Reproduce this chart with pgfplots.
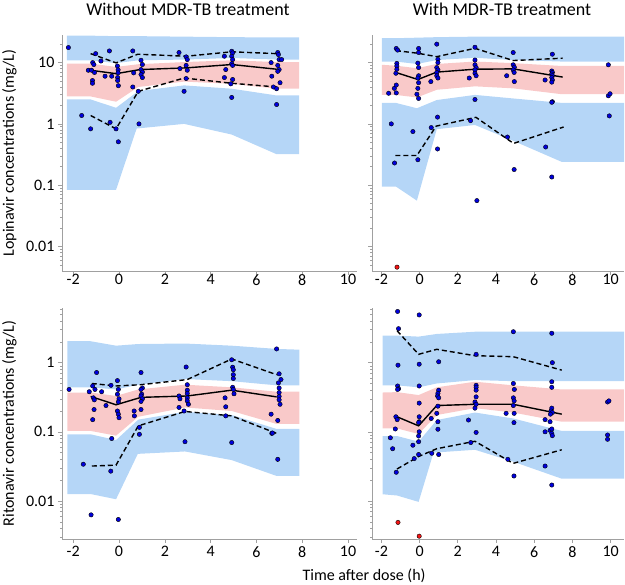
\documentclass[border=0pt]{standalone}
\usepackage{fontspec}
\setmainfont{Carlito}
\usepackage{pgfplots}
\pgfplotsset{compat=1.18}
\definecolor{bandblue}{RGB}{181,214,247}
\definecolor{bandpink}{RGB}{249,201,201}
\definecolor{dotblue}{RGB}{0,0,220}
\definecolor{dotred}{RGB}{245,20,20}
\definecolor{axisgray}{RGB}{160,160,160}

\pgfplotsset{
  vpc/.style={
    scale only axis,
    axis x line*=bottom, axis y line*=left,
    axis line style={axisgray, line width=0.8pt},
    every tick/.style={axisgray, line width=0.6pt},
    major tick length=4pt, minor tick length=2pt,
    tick align=outside,
    xtick={-2,0,2,4,6,8,10},
    xticklabels={-2,0,2,4,6,8,10},
    tick label style={font=\fontsize{16}{16}\selectfont, text=black},
    label style={font=\fontsize{16}{16}\selectfont},
  },
  toprow/.style={vpc, width=#1, height=236pt,
    ymin=0.00398, ymax=28.2,
    ytick={0.01,0.1,1,10},
    minor ytick={0.005,0.006,0.007,0.008,0.009,0.02,0.03,0.04,0.05,0.06,0.07,0.08,0.09,
      0.2,0.3,0.4,0.5,0.6,0.7,0.8,0.9,2,3,4,5,6,7,8,9,20},
    xticklabel shift=-4pt,
    title style={font=\fontsize{18}{18}\selectfont, anchor=base},
  },
  botrow/.style={vpc, width=#1, height=231pt,
    ymin=0.00282, ymax=6.17,
    ytick={0.01,0.1,1},
    minor ytick={0.003,0.004,0.005,0.006,0.007,0.008,0.009,0.02,0.03,0.04,0.05,0.06,0.07,0.08,0.09,
      0.2,0.3,0.4,0.5,0.6,0.7,0.8,0.9,2,3,4,5,6},
  },
  band/.style={draw=none, forget plot},
  med/.style={black, line width=1.4pt},
  pct/.style={black, line width=1.4pt, dash pattern=on 5pt off 3pt},
  obs/.style={only marks, mark=*, mark size=2.2pt, mark options={draw=none, fill=dotblue}},
  bql/.style={only marks, mark=*, mark size=2.2pt, mark options={draw=none, fill=dotred}},
}

\begin{document}
\begin{tikzpicture}
\path[use as bounding box] (0pt,0pt) rectangle (625pt,-585pt);

% ---------- Lopinavir, without MDR-TB treatment ----------
\begin{semilogyaxis}[toprow=295pt, at={(62pt,-35pt)}, anchor=north west,
  xmin=-2.49, xmax=10.39,
  yticklabels={0.01,0.1,1,10},
  title={Without MDR-TB treatment},
  title style={at={(axis description cs:0.427,1)}, yshift=13.5pt},
  ylabel={Lopinavir concentrations (mg/L)},
  ylabel style={at={(axis description cs:-0.163,0.5)}, anchor=base},
]
\addplot[band, fill=bandblue] coordinates {(-2.28,27.5) (-1.23,27.5) (-0.13,27) (0.84,27) (2.84,26.5) (4.92,26) (6.88,25.7) (7.86,25.7)
  (7.86,11.2) (6.88,11.2) (4.92,11.9) (2.84,11.2) (0.84,10.9) (-0.13,9.8) (-1.23,10.9) (-2.28,10.9)} -- cycle;
\addplot[band, fill=bandpink] coordinates {(-2.28,9.6) (-1.23,9.6) (-0.13,8.5) (0.84,9.4) (2.84,10.2) (4.92,10.9) (6.88,10.2) (7.86,10.2)
  (7.86,3.75) (6.88,3.75) (4.92,4.5) (2.84,4.9) (0.84,4.0) (-0.13,2.3) (-1.23,2.8) (-2.28,2.8)} -- cycle;
\addplot[band, fill=bandblue] coordinates {(-2.28,2.5) (-1.23,2.5) (-0.13,1.83) (0.84,3.43) (2.84,4.25) (4.92,3.75) (6.88,2.91) (7.86,2.91)
  (7.86,0.32) (6.88,0.32) (4.92,0.67) (2.84,1.0) (0.77,0.84) (-0.13,0.084) (-1.23,0.084) (-2.28,0.084)} -- cycle;
\addplot[med] coordinates {(-1.24,7.5) (-0.13,6.6) (0.92,7.7) (2.93,8.2) (4.92,9.3) (6.88,7.8)};
\addplot[pct] coordinates {(-1.24,14) (-0.13,9.9) (0.82,13.7) (2.93,12.7) (4.92,15) (6.88,14)};
\addplot[pct] coordinates {(-1.24,1.37) (-0.13,0.83) (0.84,3.4) (2.84,5.6) (4.92,4.6) (6.88,4.0)};
\addplot[obs] coordinates {
(-2.21,17.6) (-1.63,1.37) (-1.24,0.83) (-1.34,7.5) (-1.20,7.5) (-1.15,10) (-1.10,9.3) (-1.07,6.9) (-1.16,5.1) (-1.16,4.6)
(-1.02,14) (-0.79,10.6) (-0.61,6.0) (-0.42,15.5) (-0.39,1.06) (-0.32,6.0) (-0.07,8.8) (-0.04,7.6) (-0.04,6.8) (-0.06,5.7)
(-0.06,5.1) (-0.03,4.2) (-0.13,0.83) (-0.03,0.51) (0.60,15.5) (0.64,6.8) (0.60,4.0) (0.84,3.4) (0.87,1.0) (0.96,10.9)
(1.02,9.3) (0.96,7.7) (1.02,7.0) (0.96,6.4) (1.02,5.7) (2.62,14.6) (2.66,8.0) (2.84,3.4) (2.93,12.4) (2.98,11.2)
(2.93,9.0) (2.98,7.5) (2.93,5.5) (4.60,12.7) (4.66,7.7) (4.60,5.7) (4.92,15.3) (4.96,14.4) (4.92,12.7) (4.96,11.2)
(4.92,9.6) (4.96,9.0) (4.96,5.3) (4.92,2.7) (4.88,4.5) (6.64,10) (6.67,6.0) (6.74,4.0) (6.93,14.6) (6.96,13.5)
(6.99,11.2) (7.10,11.2) (6.93,9.0) (6.99,7.7) (6.93,7.2) (7.03,4.7) (6.88,2.07) (6.88,3.75)};
\end{semilogyaxis}

% ---------- Lopinavir, with MDR-TB treatment ----------
\begin{semilogyaxis}[toprow=252pt, at={(372pt,-35pt)}, anchor=north west,
  xmin=-2.49, xmax=10.70,
  yticklabels={},
  title={With MDR-TB treatment},
  title style={at={(axis description cs:0.516,1)}, yshift=13.5pt},
]
\addplot[band, fill=bandblue] coordinates {(-1.97,25) (-1.24,25) (-0.14,25.5) (0.9,26) (2.9,26.5) (4.9,26.5) (7.44,26.5) (10.75,26.5)
  (10.75,10.4) (7.44,10.4) (4.9,11) (2.9,12) (0.9,11) (-0.14,9.5) (-1.24,10.4) (-1.97,10.4)} -- cycle;
\addplot[band, fill=bandpink] coordinates {(-1.97,9.2) (-1.24,8.9) (-0.14,8.1) (0.9,9.5) (2.9,10.4) (4.9,9.8) (7.44,8.8) (10.75,8.8)
  (10.75,3.05) (7.44,3.05) (4.9,3.8) (2.9,4.1) (0.9,3.6) (-0.14,2.7) (-1.24,2.97) (-1.97,2.97)} -- cycle;
\addplot[band, fill=bandblue] coordinates {(-1.97,2.2) (-1.24,2.2) (-0.14,1.8) (0.9,2.45) (2.9,2.97) (4.9,2.6) (7.44,2.2) (10.75,2.2)
  (10.75,0.24) (7.44,0.24) (4.9,0.53) (2.9,0.96) (0.9,0.82) (-0.14,0.056) (-1.24,0.095) (-1.97,0.095)} -- cycle;
\addplot[med] coordinates {(-1.24,6.9) (-0.09,5.3) (0.9,7.0) (2.9,7.8) (4.9,7.9) (7.49,5.8)};
\addplot[pct] coordinates {(-1.24,15.7) (-0.09,14.2) (0.9,12.5) (2.9,17.1) (4.9,10.8) (7.49,11.8)};
\addplot[pct] coordinates {(-1.27,0.305) (-0.14,0.305) (0.87,0.92) (2.95,1.28) (4.92,0.48) (7.54,0.89)};
\addplot[obs] coordinates {
(-1.62,3.16) (-1.48,1.0) (-1.32,3.8) (-1.22,4.3) (-1.22,3.2) (-1.22,17) (-1.15,16) (-1.19,9.7) (-1.19,8.8) (-1.19,7.8)
(-1.24,6.7) (-0.35,0.75) (-0.05,17) (-0.05,14.6) (-0.09,9.8) (-0.05,8.3) (-0.05,6.1) (-0.09,5.6) (-0.05,4.7) (-0.09,3.8)
(-0.14,3.05) (-0.05,2.6) (0.59,4.9) (0.9,20) (0.96,11.3) (0.96,10) (0.9,8.3) (0.96,7.6) (0.9,6.9) (0.9,6.1)
(0.96,5.6) (0.94,1.29) (0.61,0.87) (0.94,0.39) (2.6,5.6) (2.67,1.13) (2.9,17.8) (2.9,11) (2.9,9.2) (2.96,8.3)
(2.9,7.6) (2.9,6.7) (2.96,6.1) (2.9,2.5) (3.0,0.056) (4.56,6.1) (4.6,0.61) (4.9,14.6) (4.9,9.2) (4.96,8.4)
(4.9,7.6) (4.95,6.9) (4.96,4.9) (4.95,0.18) (6.57,5.2) (6.6,0.42) (6.95,13.7) (6.92,7.3) (6.95,6.9) (6.92,6.5)
(6.95,6.1) (6.92,5.7) (6.95,5.2) (6.92,4.8) (6.95,2.3) (6.92,2.25) (6.92,0.136) (9.88,9.2) (9.88,2.87) (9.97,3.1)
(9.93,1.35) (-1.31,0.23) (-0.09,0.26)};
\addplot[bql] coordinates {(-1.18,0.0046)};
\end{semilogyaxis}

% ---------- Ritonavir, without MDR-TB treatment ----------
\begin{semilogyaxis}[botrow=295pt, at={(62pt,-308pt)}, anchor=north west,
  xmin=-2.49, xmax=10.39,
  yticklabels={0.01,0.1,1},
  ylabel={Ritonavir concentrations (mg/L)},
  ylabel style={at={(axis description cs:-0.163,0.5)}, anchor=base},
  xlabel={Time after dose (h)},
  xlabel style={at={(axis description cs:1.024,-0.1775)}, anchor=base},
]
\addplot[band, fill=bandblue] coordinates {(-2.26,2.04) (-1.24,2.04) (-0.13,1.76) (0.84,1.86) (2.88,1.89) (4.92,1.76) (6.88,1.58) (7.87,1.54)
  (7.87,0.47) (6.88,0.47) (4.92,0.54) (2.88,0.58) (0.84,0.48) (-0.13,0.41) (-1.24,0.44) (-2.26,0.44)} -- cycle;
\addplot[band, fill=bandpink] coordinates {(-2.26,0.37) (-1.24,0.37) (-0.13,0.33) (0.84,0.41) (2.88,0.48) (4.92,0.44) (6.88,0.38) (7.87,0.38)
  (7.87,0.13) (6.88,0.13) (4.92,0.20) (2.88,0.225) (0.84,0.165) (-0.13,0.088) (-1.24,0.103) (-2.26,0.103)} -- cycle;
\addplot[band, fill=bandblue] coordinates {(-2.26,0.092) (-1.24,0.092) (-0.13,0.076) (0.84,0.15) (2.88,0.195) (4.92,0.175) (6.88,0.11) (7.87,0.11)
  (7.87,0.023) (6.88,0.023) (4.92,0.039) (2.88,0.052) (0.82,0.048) (-0.13,0.0106) (-1.24,0.0126) (-2.26,0.0126)} -- cycle;
\addplot[med] coordinates {(-1.24,0.325) (-0.13,0.246) (0.96,0.315) (2.98,0.33) (4.92,0.40) (6.88,0.32)};
\addplot[pct] coordinates {(-1.19,0.50) (-0.13,0.46) (0.96,0.48) (2.98,0.57) (4.92,1.13) (6.88,0.67)};
\addplot[pct] coordinates {(-1.19,0.032) (-0.13,0.033) (0.84,0.122) (2.88,0.197) (4.92,0.17) (6.88,0.095)};
\addplot[obs] coordinates {
(-2.18,0.41) (-1.30,0.38) (-1.15,0.46) (-1.05,0.41) (-1.12,0.31) (-1.08,0.29) (-1.09,0.21) (-1.15,0.15) (-0.98,0.72) (-0.76,0.38)
(-0.57,0.24) (-0.35,0.47) (-0.07,0.55) (-0.03,0.41) (-0.07,0.35) (0.0,0.30) (-0.03,0.27) (-0.07,0.20) (-0.03,0.18) (0.0,0.16)
(0.66,0.20) (0.67,0.17) (0.96,0.72) (1.02,0.43) (0.96,0.41) (0.99,0.35) (0.96,0.33) (1.02,0.30) (0.96,0.275) (0.96,0.21)
(2.62,0.33) (2.66,0.30) (2.62,0.225) (2.93,0.865) (2.98,0.48) (2.98,0.40) (2.98,0.36) (2.98,0.31) (2.98,0.28) (3.03,0.25)
(2.84,0.20) (4.63,0.31) (4.66,0.23) (4.92,1.1) (4.96,0.86) (4.99,0.79) (4.99,0.67) (4.99,0.59) (4.96,0.44) (4.99,0.41)
(5.02,0.355) (6.64,0.18) (6.88,1.58) (6.99,0.69) (7.07,0.57) (6.96,0.51) (6.99,0.43) (6.99,0.37) (6.99,0.325) (6.99,0.29)
(7.03,0.25) (6.93,0.146) (-1.56,0.034) (-1.22,0.0063) (-0.32,0.08) (-0.36,0.027) (-0.03,0.0054) (0.89,0.116) (0.89,0.092) (2.88,0.072)
(4.66,0.17) (4.92,0.07) (6.67,0.095) (6.70,0.096) (6.93,0.04)};
\end{semilogyaxis}

% ---------- Ritonavir, with MDR-TB treatment ----------
\begin{semilogyaxis}[botrow=252pt, at={(372pt,-308pt)}, anchor=north west,
  xmin=-2.49, xmax=10.70,
  yticklabels={},
]
\addplot[band, fill=bandblue] coordinates {(-1.93,2.46) (-1.18,2.46) (-0.05,2.38) (0.9,2.6) (2.9,2.8) (4.9,2.8) (7.44,2.8) (10.75,2.8)
  (10.75,0.54) (7.44,0.54) (4.9,0.54) (2.9,0.56) (0.9,0.50) (-0.05,0.44) (-1.18,0.47) (-1.93,0.47)} -- cycle;
\addplot[band, fill=bandpink] coordinates {(-1.93,0.37) (-1.18,0.375) (-0.05,0.34) (0.9,0.44) (2.9,0.53) (4.9,0.47) (7.44,0.41) (10.75,0.41)
  (10.75,0.14) (7.44,0.14) (4.9,0.19) (2.9,0.22) (0.9,0.175) (-0.05,0.093) (-1.18,0.112) (-1.93,0.112)} -- cycle;
\addplot[band, fill=bandblue] coordinates {(-1.93,0.087) (-1.18,0.087) (-0.05,0.072) (0.9,0.148) (2.9,0.19) (4.9,0.156) (7.44,0.103) (10.75,0.103)
  (10.75,0.021) (7.44,0.021) (4.9,0.037) (2.9,0.055) (0.73,0.05) (-0.05,0.0097) (-1.18,0.012) (-1.93,0.0125)} -- cycle;
\addplot[med] coordinates {(-1.18,0.165) (-0.05,0.122) (0.9,0.24) (2.9,0.25) (4.9,0.25) (7.44,0.18)};
\addplot[pct] coordinates {(-1.18,2.9) (-0.05,1.32) (0.9,1.56) (2.9,1.26) (4.9,1.22) (7.44,0.78)};
\addplot[pct] coordinates {(-1.18,0.029) (-0.05,0.044) (0.9,0.057) (2.9,0.073) (4.9,0.035) (7.44,0.055)};
\addplot[obs] coordinates {
(-1.15,5.5) (-1.10,3.1) (-1.13,0.92) (-1.15,0.46) (-1.10,0.42) (-1.15,0.41) (-1.24,0.165) (-1.17,0.15) (-0.02,4.9) (-0.02,0.95)
(-0.02,0.46) (-0.02,0.26) (-0.02,0.165) (-0.02,0.14) (0.61,0.156) (1.0,1.03) (1.0,0.40) (0.96,0.36) (0.94,0.33) (1.0,0.31)
(0.96,0.235) (0.9,0.185) (0.96,0.14) (2.96,1.32) (2.96,0.47) (2.96,0.44) (2.96,0.40) (2.96,0.32) (2.9,0.27) (2.96,0.25)
(2.9,0.22) (2.56,0.148) (4.91,2.8) (4.91,0.50) (4.96,0.41) (4.91,0.31) (4.95,0.28) (4.91,0.24) (4.53,0.185) (4.95,0.185)
(6.92,2.66) (6.95,1.0) (6.92,0.53) (6.92,0.44) (6.92,0.22) (6.88,0.20) (6.95,0.19) (6.85,0.18) (6.57,0.15) (6.83,0.14)
(9.84,0.27) (9.91,0.28) (-1.27,0.11) (-1.53,0.082) (-1.41,0.057) (-1.22,0.026) (-0.05,0.136) (-0.02,0.10) (-0.05,0.087) (-0.05,0.072)
(-0.05,0.047) (-0.35,0.064) (-0.28,0.041) (0.96,0.109) (0.64,0.049) (1.0,0.047) (2.68,0.07) (2.96,0.098) (4.62,0.04) (4.94,0.136)
(4.94,0.023) (6.57,0.032) (6.92,0.017) (6.57,0.10) (6.83,0.105) (6.92,0.11) (6.92,0.095) (6.95,0.088) (9.84,0.09) (9.84,0.078)};
\addplot[bql] coordinates {(-1.13,0.0049) (-0.02,0.0031)};
\end{semilogyaxis}
\end{tikzpicture}
\end{document}
